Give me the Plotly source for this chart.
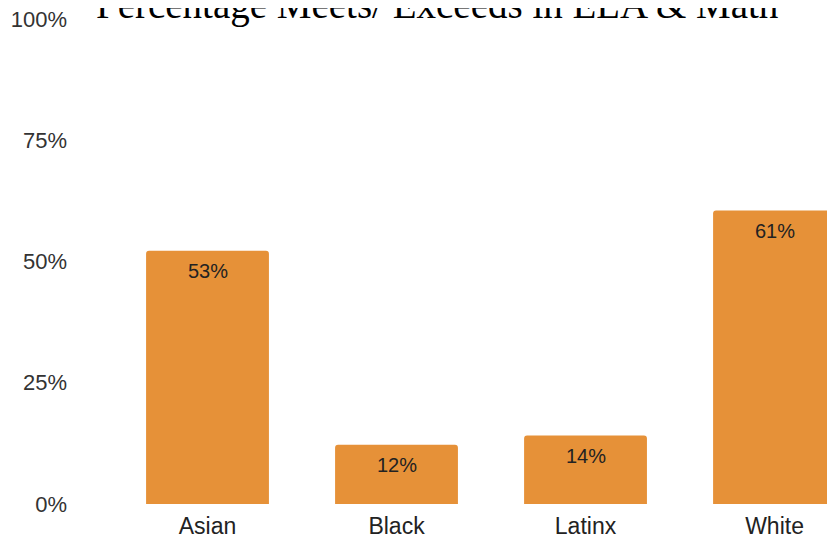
import plotly.graph_objects as go

categories = ["Asian", "Black", "Latinx", "White"]
values = [0.522, 0.122, 0.141, 0.605]
value_labels = ["53%", "12%", "14%", "61%"]
y_ticks = [0, 0.25, 0.5, 0.75, 1.0]
title_text = "Percentage Meets/ Exceeds in ELA &amp; Math"

BAR_COLOR = "#E69138"

fig = go.Figure(
    go.Bar(
        x=categories,
        y=values,
        marker=dict(color=BAR_COLOR, line=dict(width=0)),
        width=0.65,
        hoverinfo="skip",
    )
)

annotations = [
    dict(
        x=c, y=v, xref="x", yref="y",
        text=t,
        showarrow=False,
        yanchor="middle",
        yshift=-20,
        font=dict(family="Liberation Sans, Arial, sans-serif", size=20, color="#222222"),
    )
    for c, v, t in zip(categories, values, value_labels)
]

annotations.append(
    dict(
        x=0.4494, y=1.029, xref="paper", yref="paper",
        xanchor="center", yanchor="middle",
        text=title_text, showarrow=False,
        font=dict(family="Liberation Serif, Times New Roman, serif", size=39, color="#000000"),
    )
)

fig.update_layout(
    width=827,
    height=529,
    margin=dict(l=105, r=0, t=10.5, b=32.5),
    paper_bgcolor="white",
    plot_bgcolor="white",
    showlegend=False,
    barcornerradius=3,
    font=dict(family="Liberation Sans, Arial, sans-serif", color="#333333"),
    annotations=annotations,
)

fig.update_xaxes(
    range=[-0.5, 3.32],
    showgrid=False,
    zeroline=False,
    showline=False,
    ticks="",
    ticklabelstandoff=6,
    tickfont=dict(size=23, color="#222222"),
    automargin=False,
)
fig.update_yaxes(
    range=[0, 1],
    tickvals=y_ticks,
    tickformat=".0%",
    showgrid=False,
    zeroline=False,
    showline=False,
    ticks="",
    ticklabelstandoff=45,
    ticklabeloverflow="allow",
    tickfont=dict(size=22, color="#333333"),
    automargin=False,
)

fig.write_html("out.html")
